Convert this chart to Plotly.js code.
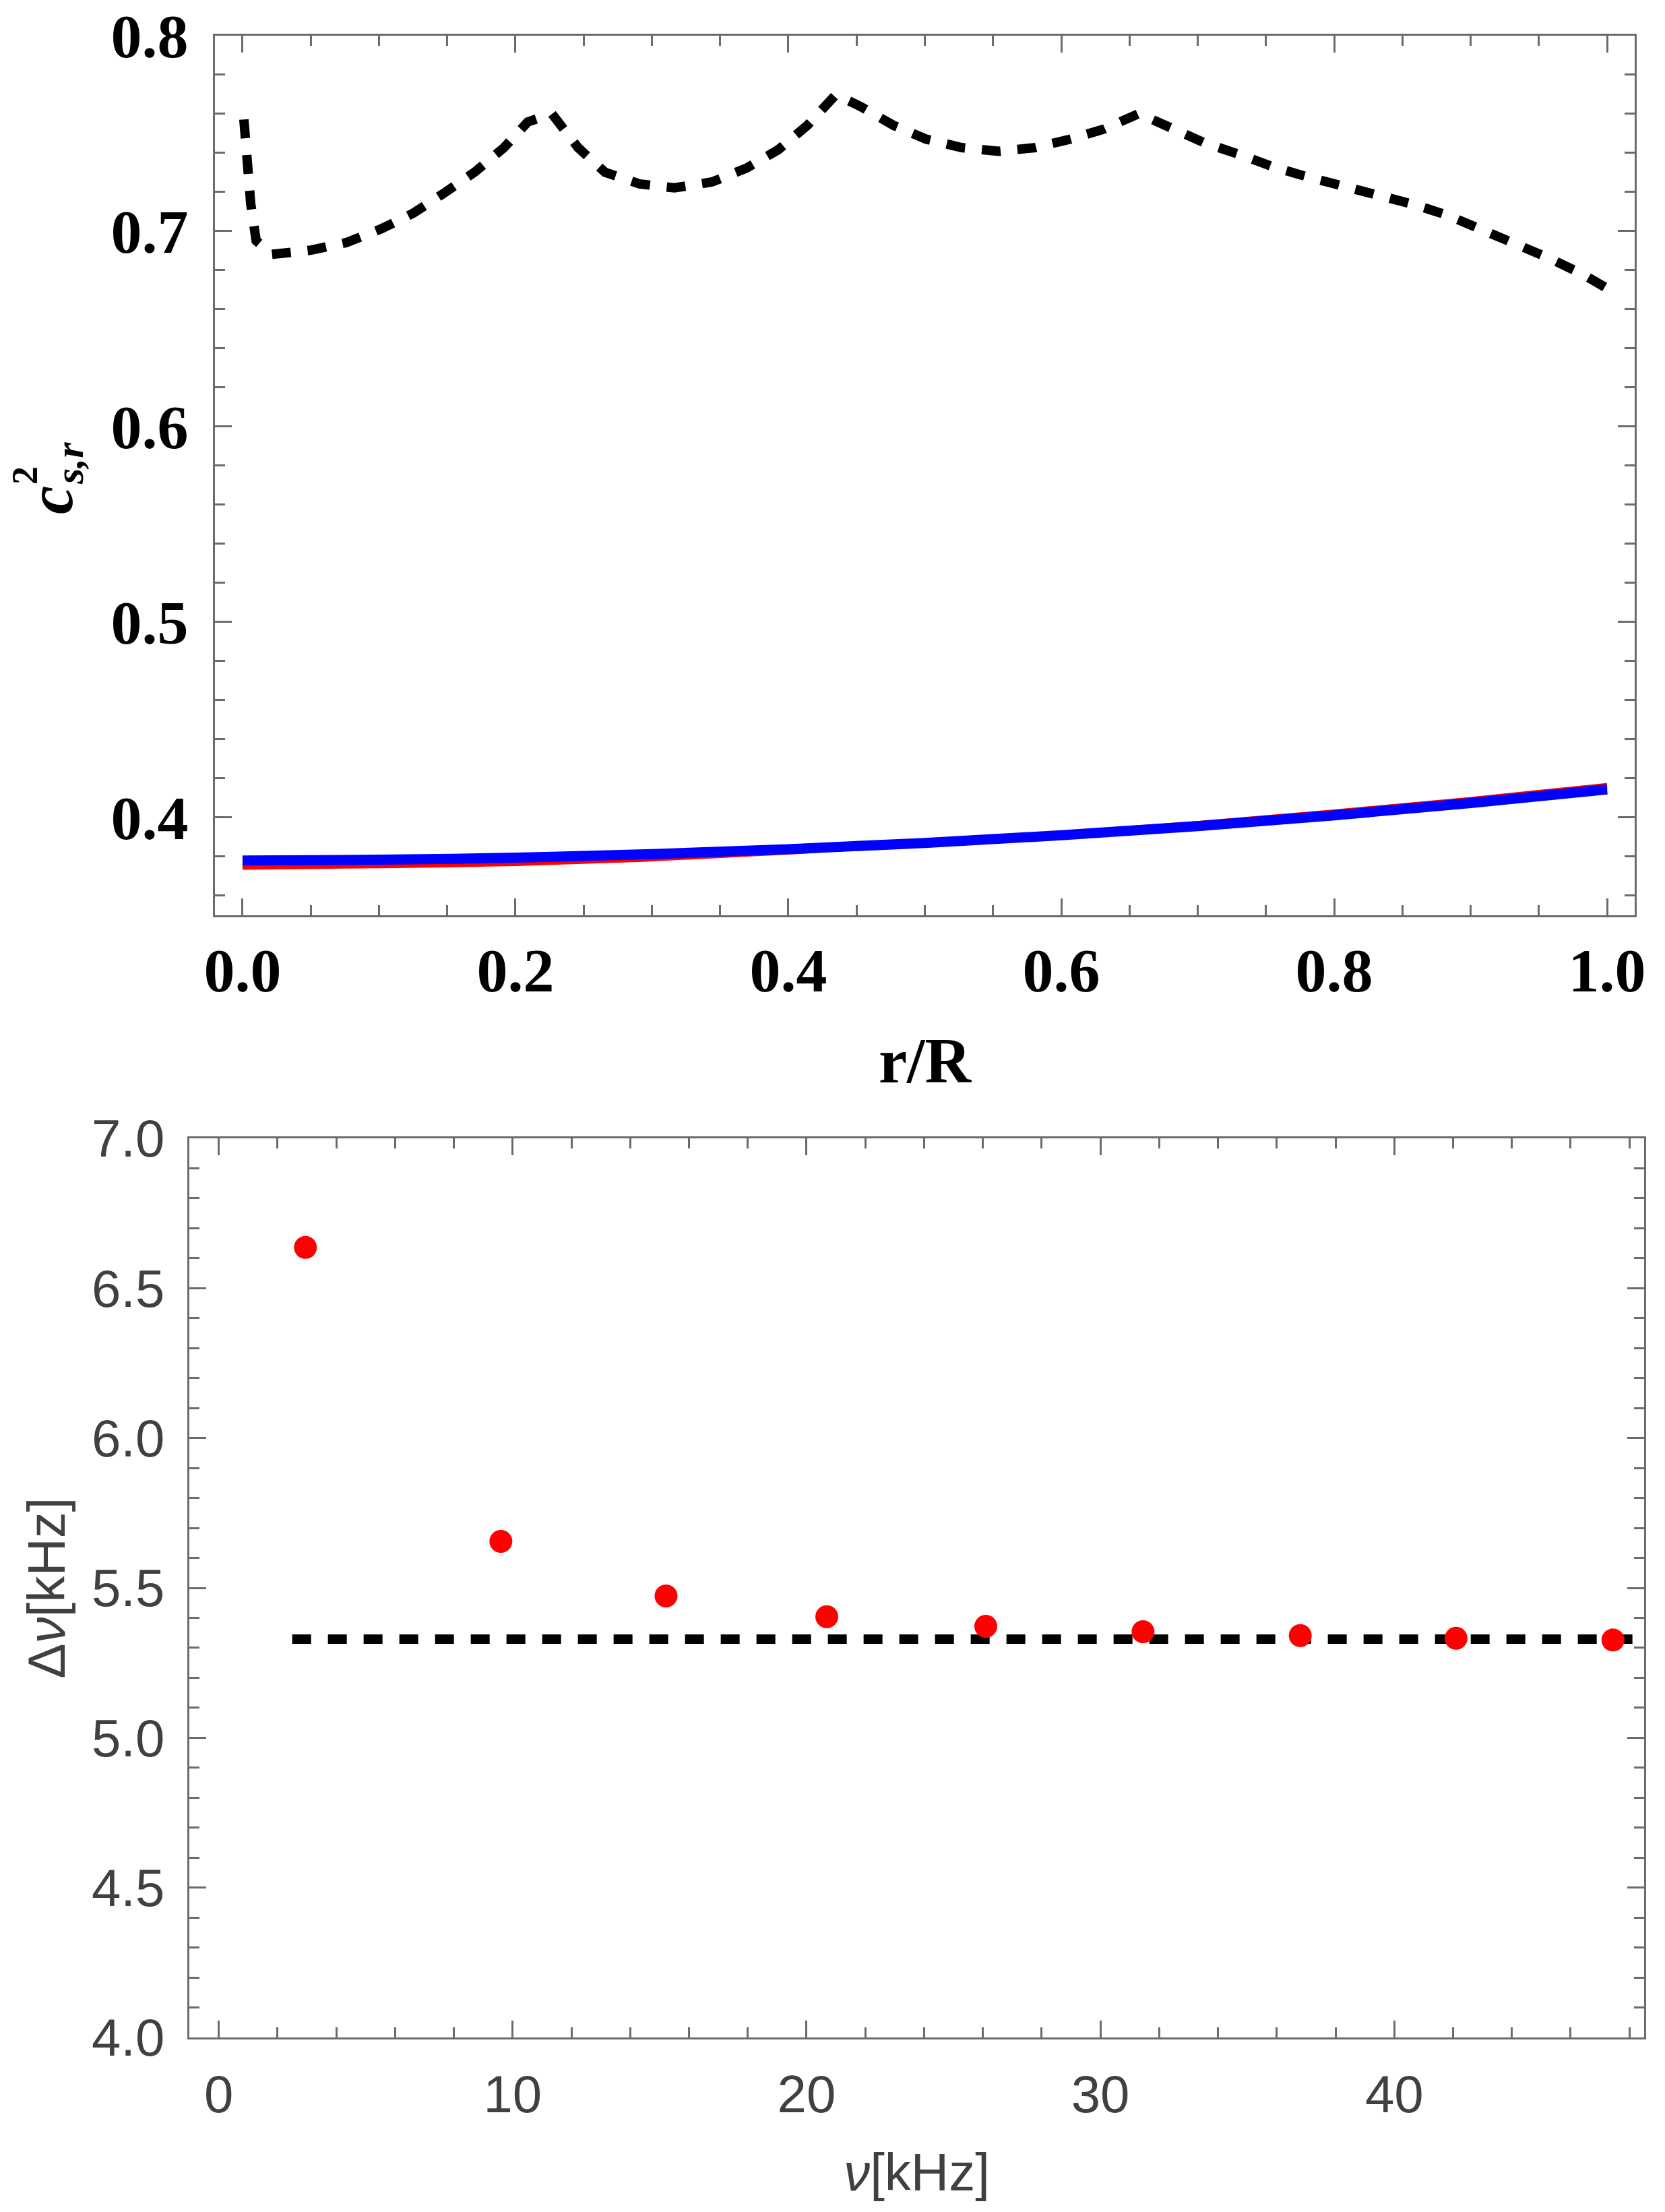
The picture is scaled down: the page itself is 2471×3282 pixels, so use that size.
<!DOCTYPE html>
<html>
<head>
<meta charset="utf-8">
<script src="https://cdn.plot.ly/plotly-3.0.1.min.js"></script>
<style>
  html, body { margin: 0; padding: 0; background: #fff; }
  #chart { width: 2471px; height: 3282px; }
</style>
</head>
<body>
<div id="chart"></div>
<script>
// top panel: sound speed squared vs r/R
const r_dash = [0.001, 0.003, 0.006, 0.010, 0.0215, 0.049, 0.076, 0.1016, 0.125, 0.147, 0.170, 0.1915, 0.209, 0.2266,
  0.246, 0.2656, 0.291, 0.3165, 0.344, 0.369, 0.3926, 0.414, 0.4316, 0.4348, 0.453, 0.477, 0.5007, 0.527, 0.554,
  0.581, 0.607, 0.631, 0.657, 0.681, 0.705, 0.731, 0.755, 0.781, 0.807, 0.833, 0.859, 0.883, 0.907, 0.933, 0.957,
  0.981, 0.999];
const cs_dash = [0.757, 0.735, 0.714, 0.695, 0.688, 0.690, 0.694, 0.701, 0.709, 0.719, 0.730, 0.7425, 0.7557, 0.760,
  0.7425, 0.730, 0.724, 0.722, 0.725, 0.732, 0.7415, 0.754, 0.767, 0.7697, 0.7636, 0.754, 0.747, 0.7426, 0.7407,
  0.7426, 0.747, 0.752, 0.760, 0.753, 0.745, 0.739, 0.7328, 0.7275, 0.7231, 0.7188, 0.7134, 0.708, 0.701, 0.694,
  0.6862, 0.6782, 0.671];

const r_grid = [0, 0.1, 0.2, 0.3, 0.4, 0.5, 0.6, 0.7, 0.8, 0.9, 1.0];
const cs_red = [0.3747, 0.3755, 0.3766, 0.3790, 0.3825, 0.3867, 0.3914, 0.3966, 0.4025, 0.4089, 0.4160];
const cs_blue = [0.3779, 0.3783, 0.3794, 0.3812, 0.3837, 0.3869, 0.3908, 0.3955, 0.4010, 0.4073, 0.4143];

// bottom panel: frequency spacing
const nu_pts = [2.95, 9.6, 15.22, 20.69, 26.1, 31.45, 36.8, 42.1, 47.44];
const dnu_pts = [6.636, 5.655, 5.473, 5.404, 5.372, 5.354, 5.341, 5.332, 5.326];
const nu_line = [2.5, 48.5];
const dnu_line = [5.329, 5.329];

const W = 2471, H = 3282;
const axisGray = "#6b6b6b";
const serif = "Liberation Serif, Times New Roman, serif";
const sans = "Liberation Sans, Arial, sans-serif";
const textGray = "#404040";

var traces = [
  {
    x: r_dash, y: cs_dash, xaxis: "x", yaxis: "y",
    mode: "lines", type: "scatter",
    line: { color: "black", width: 14, dash: "28px,25px" },
  },
  {
    x: r_grid, y: cs_red, xaxis: "x", yaxis: "y",
    mode: "lines", type: "scatter",
    line: { color: "#ff0000", width: 9, shape: "spline" },
  },
  {
    x: r_grid, y: cs_blue, xaxis: "x", yaxis: "y",
    mode: "lines", type: "scatter",
    line: { color: "#0000ff", width: 15, shape: "spline" },
  },
  {
    x: nu_line, y: dnu_line, xaxis: "x2", yaxis: "y2",
    mode: "lines", type: "scatter",
    line: { color: "black", width: 14, dash: "28px,25px" },
  },
  {
    x: nu_pts, y: dnu_pts, xaxis: "x2", yaxis: "y2",
    mode: "markers", type: "scatter",
    marker: { color: "#ff0000", size: 34 },
  },
];

var frame = {
  showline: true, linecolor: axisGray, linewidth: 3, mirror: "ticks",
  ticks: "inside", ticklen: 25, tickwidth: 3, tickcolor: axisGray,
  showgrid: false, zeroline: false, fixedrange: true,
};

var layout = {
  width: W, height: H,
  margin: { l: 0, r: 0, t: 0, b: 0 },
  paper_bgcolor: "#fff", plot_bgcolor: "#fff",
  showlegend: false,
  xaxis: Object.assign({}, frame, {
    domain: [319 / W, 2426 / W], anchor: "y",
    range: [-0.0202, 1.0202], dtick: 0.2, tick0: 0, tickformat: ".1f",
    minor: { ticks: "inside", ticklen: 15, tickwidth: 3, tickcolor: axisGray, dtick: 0.05 },
    tickfont: { family: serif, size: 92, color: "black", weight: "bold" },
    ticklabelstandoff: 0,
    title: { text: "r/R", font: { family: serif, size: 95, color: "black", weight: "bold" }, standoff: 50 },
  }),
  yaxis: Object.assign({}, frame, {
    domain: [1 - 1357.7 / H, 1 - 52.5 / H], anchor: "x",
    range: [0.35, 0.8], dtick: 0.1, tick0: 0, tickformat: ".1f",
    minor: { ticks: "inside", ticklen: 15, tickwidth: 3, tickcolor: axisGray, dtick: 0.02 },
    tickfont: { family: serif, size: 92, color: "black", weight: "bold" },
    ticklabelstandoff: 18,
  }),
  xaxis2: Object.assign({}, frame, {
    domain: [281 / W, 2440 / W], anchor: "y2",
    range: [-1, 48.5], dtick: 10, tick0: 0,
    minor: { ticks: "inside", ticklen: 15, tickwidth: 3, tickcolor: axisGray, dtick: 2 },
    tickfont: { family: sans, size: 78, color: textGray },
    ticklabelstandoff: 14,
    title: { text: "<i>ν</i>[kHz]", font: { family: sans, size: 78, color: textGray }, standoff: 46 },
  }),
  yaxis2: Object.assign({}, frame, {
    domain: [1 - 3023 / H, 1 - 1689 / H], anchor: "x2",
    range: [4, 7], dtick: 0.5, tick0: 0, tickformat: ".1f",
    minor: { ticks: "inside", ticklen: 15, tickwidth: 3, tickcolor: axisGray, dtick: 0.1 },
    tickfont: { family: sans, size: 78, color: textGray },
    ticklabelstandoff: 18,
    title: { text: "Δ<i>ν</i>[kHz]", font: { family: sans, size: 78, color: textGray }, standoff: 14 },
  }),
  // y title of the top panel: c with stacked superscript 2 and subscript s,r
  annotations: [
    { text: "<b><i>c</i></b>", xref: "paper", yref: "paper", x: 75 / W, y: 1 - 742 / H,
      xanchor: "center", yanchor: "middle", textangle: -90, showarrow: false,
      font: { family: serif, size: 95, color: "black" } },
    { text: "<b>2</b>", xref: "paper", yref: "paper", x: 37 / W, y: 1 - 706 / H,
      xanchor: "center", yanchor: "middle", textangle: -90, showarrow: false,
      font: { family: serif, size: 54, color: "black" } },
    { text: "<b><i>s,r</i></b>", xref: "paper", yref: "paper", x: 103 / W, y: 1 - 688 / H,
      xanchor: "center", yanchor: "middle", textangle: -90, showarrow: false,
      font: { family: serif, size: 60, color: "black" } },
  ],
};

Plotly.newPlot("chart", traces, layout, { staticPlot: true });
</script>
</body>
</html>
